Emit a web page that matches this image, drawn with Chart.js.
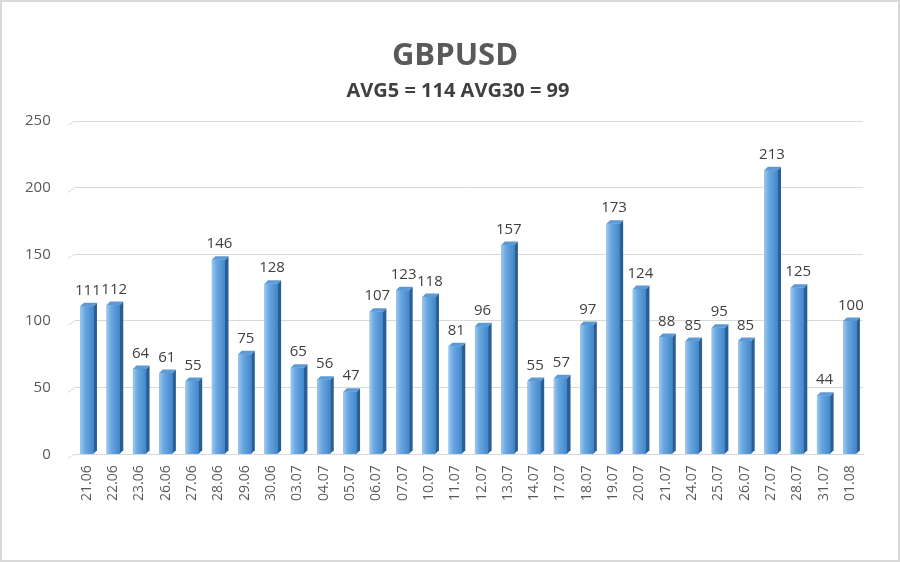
<!DOCTYPE html>
<html>
<head>
<meta charset="utf-8">
<script src="https://cdn.jsdelivr.net/npm/chart.js@4"></script>
<style>
  html, body { margin: 0; padding: 0; background: #ffffff; }
  #wrap { position: relative; width: 900px; height: 562px; box-sizing: border-box; border: 2px solid #d9d9d9; background: #fff; }
  canvas { display: block; }
</style>
</head>
<body>
<div id="wrap"><canvas id="c" width="896" height="558"></canvas></div>
<script>
const categories = ["21.06","22.06","23.06","26.06","27.06","28.06","29.06","30.06","03.07","04.07","05.07","06.07","07.07","10.07","11.07","12.07","13.07","14.07","17.07","18.07","19.07","20.07","21.07","24.07","25.07","26.07","27.07","28.07","31.07","01.08"];
const values = [111,112,64,61,55,146,75,128,65,56,47,107,123,118,81,96,157,55,57,97,173,124,88,85,95,85,213,125,44,100];
const yTicks = [0,50,100,150,200,250];
const titleText = "GBPUSD";
const subtitleText = "AVG5 = 114 AVG30 = 99";

const FONT = "'Open Sans', 'Noto Sans', sans-serif";

const titles = {
  id: 'titles',
  afterDraw(chart) {
    const ctx = chart.ctx;
    ctx.save();
    ctx.textAlign = 'center';
    ctx.textBaseline = 'middle';
    ctx.fillStyle = '#595959';
    ctx.font = "bold 31px " + FONT;
    ctx.fillText(titleText, 453, 54);
    ctx.fillStyle = '#404040';
    ctx.font = "bold 20px " + FONT;
    ctx.fillText(subtitleText, 456, 89);
    ctx.restore();
  }
};

const bar3d = {
  id: 'bar3d',
  beforeDatasetsDraw(chart) {
    const ctx = chart.ctx;
    const ys = chart.scales.y;
    const left = chart.chartArea.left;
    ctx.save();
    ctx.strokeStyle = '#d9d9d9';
    ctx.lineWidth = 1;
    ys.ticks.forEach(t => {
      const y = Math.round(ys.getPixelForValue(t.value)) + 0.5;
      ctx.beginPath();
      ctx.moveTo(left - 6, y + 4);
      ctx.lineTo(left, y);
      ctx.stroke();
    });
    ctx.restore();
  },
  afterDatasetsDraw(chart) {
    const ctx = chart.ctx;
    const meta = chart.getDatasetMeta(0);
    const d = 3.5;
    ctx.save();
    meta.data.forEach((el, i) => {
      const w = el.width;
      const r = el.x + w/2, l = el.x - w/2;
      const top = el.y, base = el.base;
      const g = ctx.createLinearGradient(l, 0, r, 0);
      g.addColorStop(0, '#9cc8f0');
      g.addColorStop(0.35, '#6aa7e0');
      g.addColorStop(1, '#4288cc');
      ctx.fillStyle = g;
      ctx.fillRect(l, top, w, base - top);
      ctx.beginPath();
      ctx.moveTo(r, top);
      ctx.lineTo(r + d, top - d);
      ctx.lineTo(r + d, base - d);
      ctx.lineTo(r, base);
      ctx.closePath();
      ctx.fillStyle = '#285f96';
      ctx.fill();
      ctx.beginPath();
      ctx.moveTo(l, top);
      ctx.lineTo(l + d, top - d);
      ctx.lineTo(r + d, top - d);
      ctx.lineTo(r, top);
      ctx.closePath();
      ctx.fillStyle = '#5c9ad6';
      ctx.fill();
      ctx.fillStyle = '#404040';
      ctx.font = "15px " + FONT;
      ctx.textAlign = 'center';
      ctx.textBaseline = 'bottom';
      ctx.fillText(String(values[i]), el.x + 1, top - 8);
    });
    ctx.restore();
  }
};

new Chart(document.getElementById('c'), {
  type: 'bar',
  data: {
    labels: categories,
    datasets: [{
      data: values,
      backgroundColor: '#5b9bd5',
      borderWidth: 0,
      barPercentage: 0.5,
      categoryPercentage: 1.0
    }]
  },
  plugins: [bar3d, titles],
  options: {
    responsive: false,
    animation: false,
    layout: { padding: { left: 0, right: 35, top: 119, bottom: 56 } },
    plugins: {
      legend: { display: false },
      tooltip: { enabled: false },
      title: { display: false },
      subtitle: { display: false }
    },
    scales: {
      x: {
        grid: { display: false },
        border: { display: true, color: '#d9d9d9' },
        ticks: {
          color: '#595959', font: { family: FONT, size: 14 },
          minRotation: 90, maxRotation: 90, autoSkip: false, padding: 3
        }
      },
      y: {
        min: 0, max: 250,
        afterBuildTicks(axis) { axis.ticks = yTicks.map(v => ({ value: v })); },
        grid: { color: '#d9d9d9', drawTicks: false },
        border: { display: false },
        ticks: { color: '#595959', font: { family: FONT, size: 15 }, padding: 23 }
      }
    }
  }
});
</script>
</body>
</html>
